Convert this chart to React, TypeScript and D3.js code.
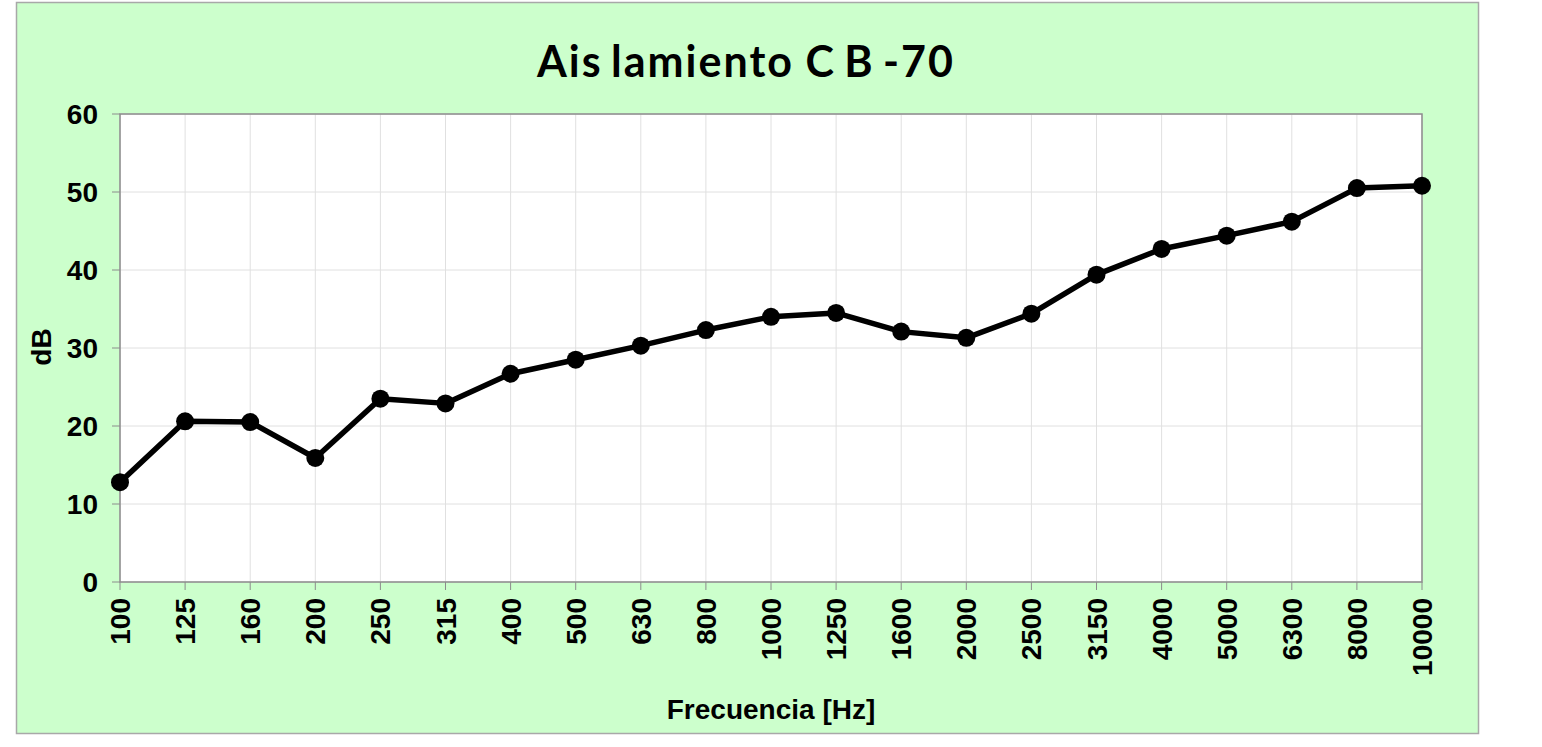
import React from 'react';
import * as d3 from 'd3';

const frequencies = ['100', '125', '160', '200', '250', '315', '400', '500', '630', '800', '1000', '1250', '1600', '2000', '2500', '3150', '4000', '5000', '6300', '8000', '10000'];
const aislamiento = [12.8, 20.6, 20.5, 15.9, 23.5, 22.9, 26.7, 28.5, 30.3, 32.3, 34.0, 34.5, 32.1, 31.3, 34.4, 39.4, 42.7, 44.4, 46.2, 50.5, 50.8];
const yTicks = [0, 10, 20, 30, 40, 50, 60];

const W = 1542;
const H = 747;
const left = 120;
const right = 1422;
const top = 114;
const bottom = 582;

export default function App() {
  const x = d3.scalePoint<string>().domain(frequencies).range([left, right]);
  const y = d3.scaleLinear().domain([0, 60]).range([bottom, top]);
  const line = d3
    .line<number>()
    .x((_, i) => x(frequencies[i])!)
    .y((d) => y(d));

  const tickFont = 'Liberation Sans, Arial, sans-serif';

  return (
    <svg width={W} height={H} style={{ position: 'absolute', left: 0, top: 0 }}>
      <rect x={16.5} y={2.5} width={1462} height={731} fill="#ccffcc" stroke="#a8a8a8" strokeWidth={1.5} />
      <text
        x={746}
        y={77}
        textAnchor="middle"
        fontFamily="Lato, sans-serif"
        fontWeight="bold"
        fontSize={43}
        letterSpacing={2}
        wordSpacing={-4}
        fill="#000"
      >
        <tspan>Ais lamiento</tspan>
        <tspan dx={3}> C B -70</tspan>
      </text>
      <rect x={left} y={top} width={right - left} height={bottom - top} fill="#fff" />
      {yTicks.map((t) => (
        <line key={'gy' + t} x1={left} x2={right} y1={y(t)} y2={y(t)} stroke="#e0e0e0" strokeWidth={1} />
      ))}
      {frequencies.map((f) => (
        <line key={'gx' + f} x1={x(f)} x2={x(f)} y1={top} y2={bottom} stroke="#e0e0e0" strokeWidth={1} />
      ))}
      <rect x={left} y={top} width={right - left} height={bottom - top} fill="none" stroke="#8c8c8c" strokeWidth={1.5} />
      {yTicks.map((t) => (
        <g key={'ty' + t}>
          <line x1={left - 8} x2={left} y1={y(t)} y2={y(t)} stroke="#8c8c8c" strokeWidth={1} />
          <text
            x={98}
            y={y(t)}
            dy="0.36em"
            textAnchor="end"
            fontFamily={tickFont}
            fontWeight="bold"
            fontSize={28}
          >
            {t}
          </text>
        </g>
      ))}
      {frequencies.map((f) => (
        <g key={'tx' + f}>
          <line x1={x(f)} x2={x(f)} y1={bottom} y2={bottom + 8} stroke="#8c8c8c" strokeWidth={1} />
          <text
            transform={`translate(${x(f)! + 10},${598}) rotate(-90)`}
            textAnchor="end"
            fontFamily={tickFont}
            fontWeight="bold"
            fontSize={28}
          >
            {f}
          </text>
        </g>
      ))}
      <text
        transform={`translate(${51},${347}) rotate(-90)`}
        textAnchor="middle"
        fontFamily={tickFont}
        fontWeight="bold"
        fontSize={28}
      >
        dB
      </text>
      <text
        x={771}
        y={719}
        textAnchor="middle"
        fontFamily={tickFont}
        fontWeight="bold"
        fontSize={28}
      >
        Frecuencia [Hz]
      </text>
      <path d={line(aislamiento)!} fill="none" stroke="#000" strokeWidth={5.5} strokeLinejoin="round" />
      {aislamiento.map((v, i) => (
        <circle key={'p' + i} cx={x(frequencies[i])} cy={y(v)} r={9} fill="#000" />
      ))}
    </svg>
  );
}
